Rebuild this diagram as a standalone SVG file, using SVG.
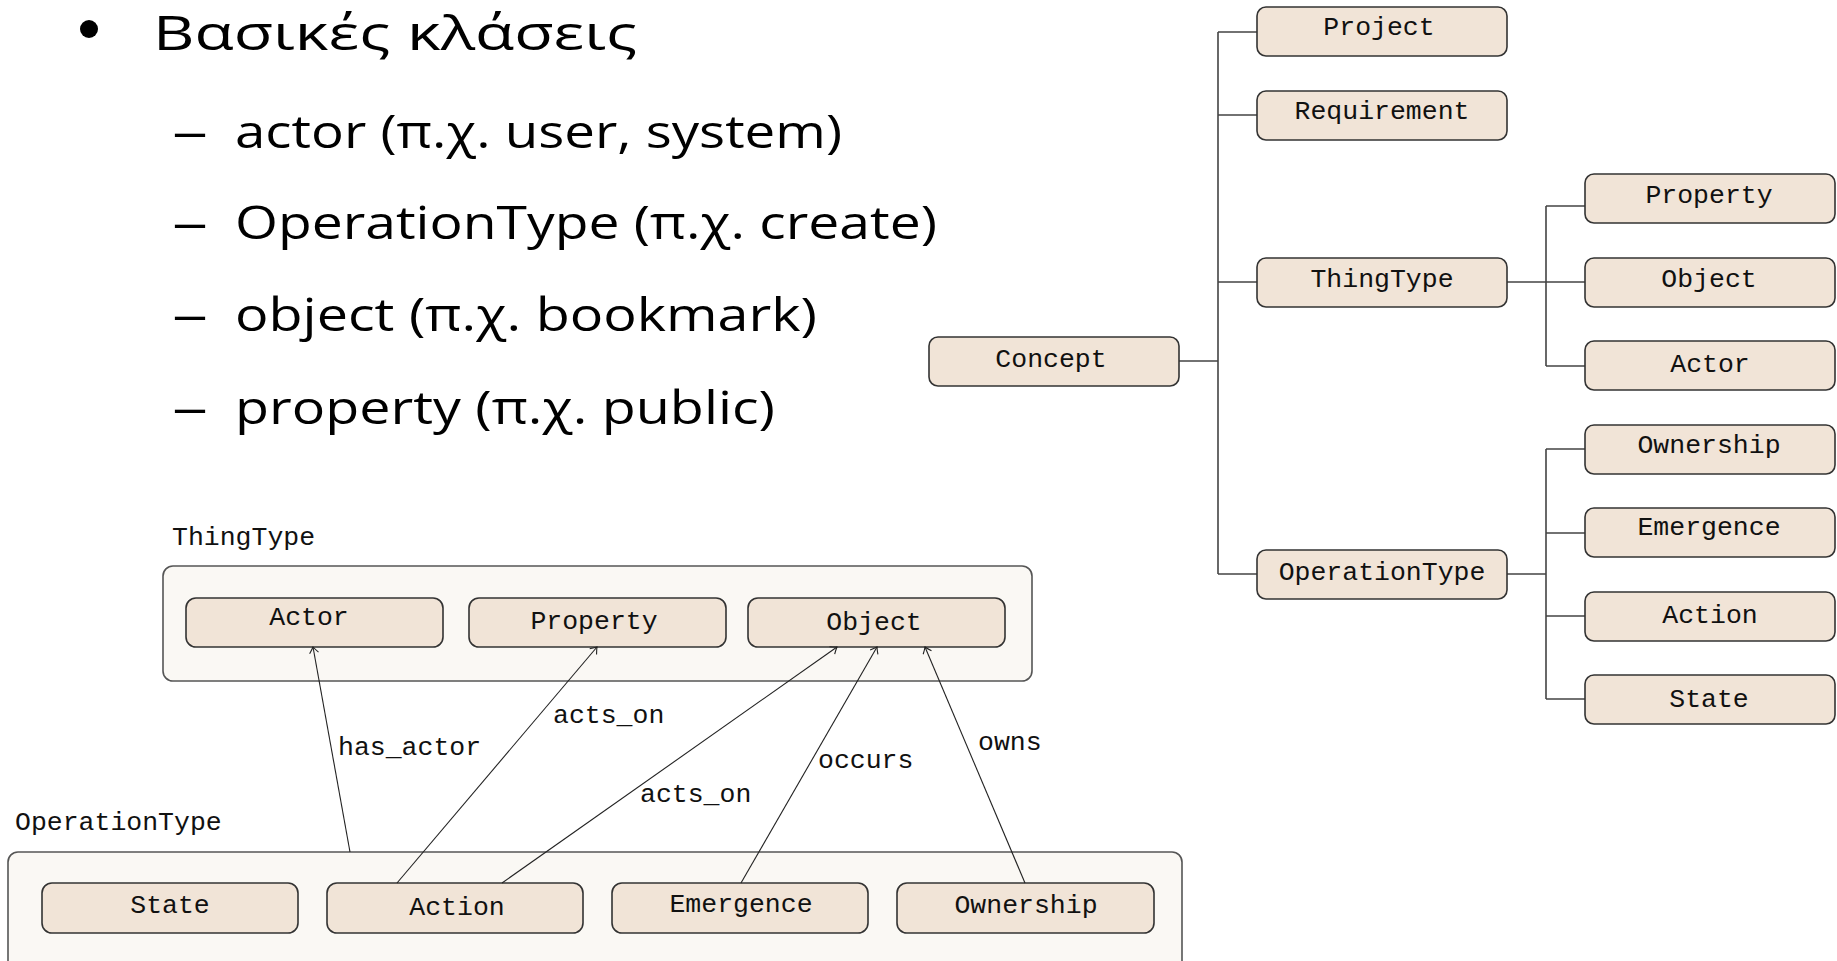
<svg xmlns="http://www.w3.org/2000/svg" width="1837" height="961" viewBox="0 0 1837 961">
  <defs>
    <style>
      .slide { font-family: "Open Sans", "Noto Sans", "DejaVu Sans", sans-serif; fill: #000; }
      .tt { font-family: "Liberation Mono", "DejaVu Sans Mono", monospace; font-size: 26.5px; fill: #111; }
      .mid { text-anchor: middle; }
      .node { fill: #f1e4d7; stroke: #333; stroke-width: 1.6; }
      .group { fill: #faf8f4; stroke: #555; stroke-width: 1.6; }
      .tree { fill: none; stroke: #444; stroke-width: 1.6; }
      .rel { fill: none; stroke: #222; stroke-width: 1.1; marker-end: url(#arrow); }
    </style>
    <marker id="arrow" viewBox="-8 -6 10 12" markerWidth="10" markerHeight="12" refX="0" refY="0" orient="auto" markerUnits="userSpaceOnUse">
      <path d="M -6,-4.5 Q -2,-1.2 0,0 Q -2,1.2 -6,4.5" fill="none" stroke="#222" stroke-width="1.1"/>
    </marker>
  </defs>

  <!-- bullet list -->
  <g id="bullets">
    <circle cx="89" cy="29" r="9" fill="#000"/>
    <text class="slide" x="153" y="50" font-size="47" textLength="484" lengthAdjust="spacingAndGlyphs">Βασικές κλάσεις</text>
    <text class="slide" x="172" y="148" font-size="46" textLength="36" lengthAdjust="spacingAndGlyphs">–</text>
    <text class="slide" x="235" y="148" font-size="46" textLength="607" lengthAdjust="spacingAndGlyphs">actor (π.χ. user, system)</text>
    <text class="slide" x="172" y="239" font-size="46" textLength="36" lengthAdjust="spacingAndGlyphs">–</text>
    <text class="slide" x="235" y="239" font-size="46" textLength="702" lengthAdjust="spacingAndGlyphs">OperationType (π.χ. create)</text>
    <text class="slide" x="172" y="331" font-size="46" textLength="36" lengthAdjust="spacingAndGlyphs">–</text>
    <text class="slide" x="235" y="331" font-size="46" textLength="582" lengthAdjust="spacingAndGlyphs">object (π.χ. bookmark)</text>
    <text class="slide" x="172" y="424" font-size="46" textLength="36" lengthAdjust="spacingAndGlyphs">–</text>
    <text class="slide" x="235" y="424" font-size="46" textLength="540" lengthAdjust="spacingAndGlyphs">property (π.χ. public)</text>
  </g>

  <!-- concept tree: connectors -->
  <g id="tree-connectors">
    <path class="tree" d="M1179,361 H1218 M1218,32 V574 M1218,32 H1257 M1218,115 H1257 M1218,282 H1257 M1218,574 H1257"/>
    <path class="tree" d="M1507,282 H1585 M1546,206 V366 M1546,206 H1585 M1546,366 H1585"/>
    <path class="tree" d="M1507,574 H1546 M1546,449 V699 M1546,449 H1585 M1546,533 H1585 M1546,616 H1585 M1546,699 H1585"/>
  </g>

  <!-- concept tree: nodes -->
  <g id="t-concept"><rect class="node" x="929" y="337" width="250" height="49" rx="9"/><text class="tt mid" x="1051" y="367">Concept</text></g>
  <g id="t-project"><rect class="node" x="1257" y="7" width="250" height="49" rx="9"/><text class="tt mid" x="1379" y="35">Project</text></g>
  <g id="t-requirement"><rect class="node" x="1257" y="91" width="250" height="49" rx="9"/><text class="tt mid" x="1382" y="119">Requirement</text></g>
  <g id="t-thingtype"><rect class="node" x="1257" y="258" width="250" height="49" rx="9"/><text class="tt mid" x="1382" y="287">ThingType</text></g>
  <g id="t-operationtype"><rect class="node" x="1257" y="550" width="250" height="49" rx="9"/><text class="tt mid" x="1382" y="580">OperationType</text></g>
  <g id="t-property"><rect class="node" x="1585" y="174" width="250" height="49" rx="9"/><text class="tt mid" x="1709" y="203">Property</text></g>
  <g id="t-object"><rect class="node" x="1585" y="258" width="250" height="49" rx="9"/><text class="tt mid" x="1709" y="287">Object</text></g>
  <g id="t-actor"><rect class="node" x="1585" y="341" width="250" height="49" rx="9"/><text class="tt mid" x="1710" y="372">Actor</text></g>
  <g id="t-ownership"><rect class="node" x="1585" y="425" width="250" height="49" rx="9"/><text class="tt mid" x="1709" y="453">Ownership</text></g>
  <g id="t-emergence"><rect class="node" x="1585" y="508" width="250" height="49" rx="9"/><text class="tt mid" x="1709" y="535">Emergence</text></g>
  <g id="t-action"><rect class="node" x="1585" y="592" width="250" height="49" rx="9"/><text class="tt mid" x="1710" y="623">Action</text></g>
  <g id="t-state"><rect class="node" x="1585" y="675" width="250" height="49" rx="9"/><text class="tt mid" x="1709" y="707">State</text></g>

  <!-- relation diagram: groups -->
  <g id="g-thingtype">
    <text class="tt" x="172" y="545">ThingType</text>
    <rect class="group" x="163" y="566" width="869" height="115" rx="10"/>
  </g>
  <g id="g-operationtype">
    <text class="tt" x="15" y="830">OperationType</text>
    <rect class="group" x="8" y="852" width="1174" height="130" rx="10"/>
  </g>

  <!-- relation diagram: nodes -->
  <g id="r-actor"><rect class="node" x="186" y="598" width="257" height="49" rx="10"/><text class="tt mid" x="309" y="625">Actor</text></g>
  <g id="r-property"><rect class="node" x="469" y="598" width="257" height="49" rx="10"/><text class="tt mid" x="594" y="629">Property</text></g>
  <g id="r-object"><rect class="node" x="748" y="598" width="257" height="49" rx="10"/><text class="tt mid" x="874" y="630">Object</text></g>
  <g id="r-state"><rect class="node" x="42" y="883" width="256" height="50" rx="10"/><text class="tt mid" x="170" y="913">State</text></g>
  <g id="r-action"><rect class="node" x="327" y="883" width="256" height="50" rx="10"/><text class="tt mid" x="457" y="915">Action</text></g>
  <g id="r-emergence"><rect class="node" x="612" y="883" width="256" height="50" rx="10"/><text class="tt mid" x="741" y="912">Emergence</text></g>
  <g id="r-ownership"><rect class="node" x="897" y="883" width="257" height="50" rx="10"/><text class="tt mid" x="1026" y="913">Ownership</text></g>

  <!-- relation diagram: connectors -->
  <g id="relations">
    <line class="rel" x1="350" y1="852" x2="313" y2="647"/>
    <line class="rel" x1="397" y1="883" x2="597" y2="647"/>
    <line class="rel" x1="502" y1="883" x2="837" y2="647"/>
    <line class="rel" x1="741" y1="883" x2="877" y2="647"/>
    <line class="rel" x1="1025" y1="883" x2="925" y2="647"/>
    <text class="tt" x="338" y="755">has_actor</text>
    <text class="tt" x="553" y="723">acts_on</text>
    <text class="tt" x="640" y="802">acts_on</text>
    <text class="tt" x="818" y="768">occurs</text>
    <text class="tt" x="978" y="750">owns</text>
  </g>
</svg>
